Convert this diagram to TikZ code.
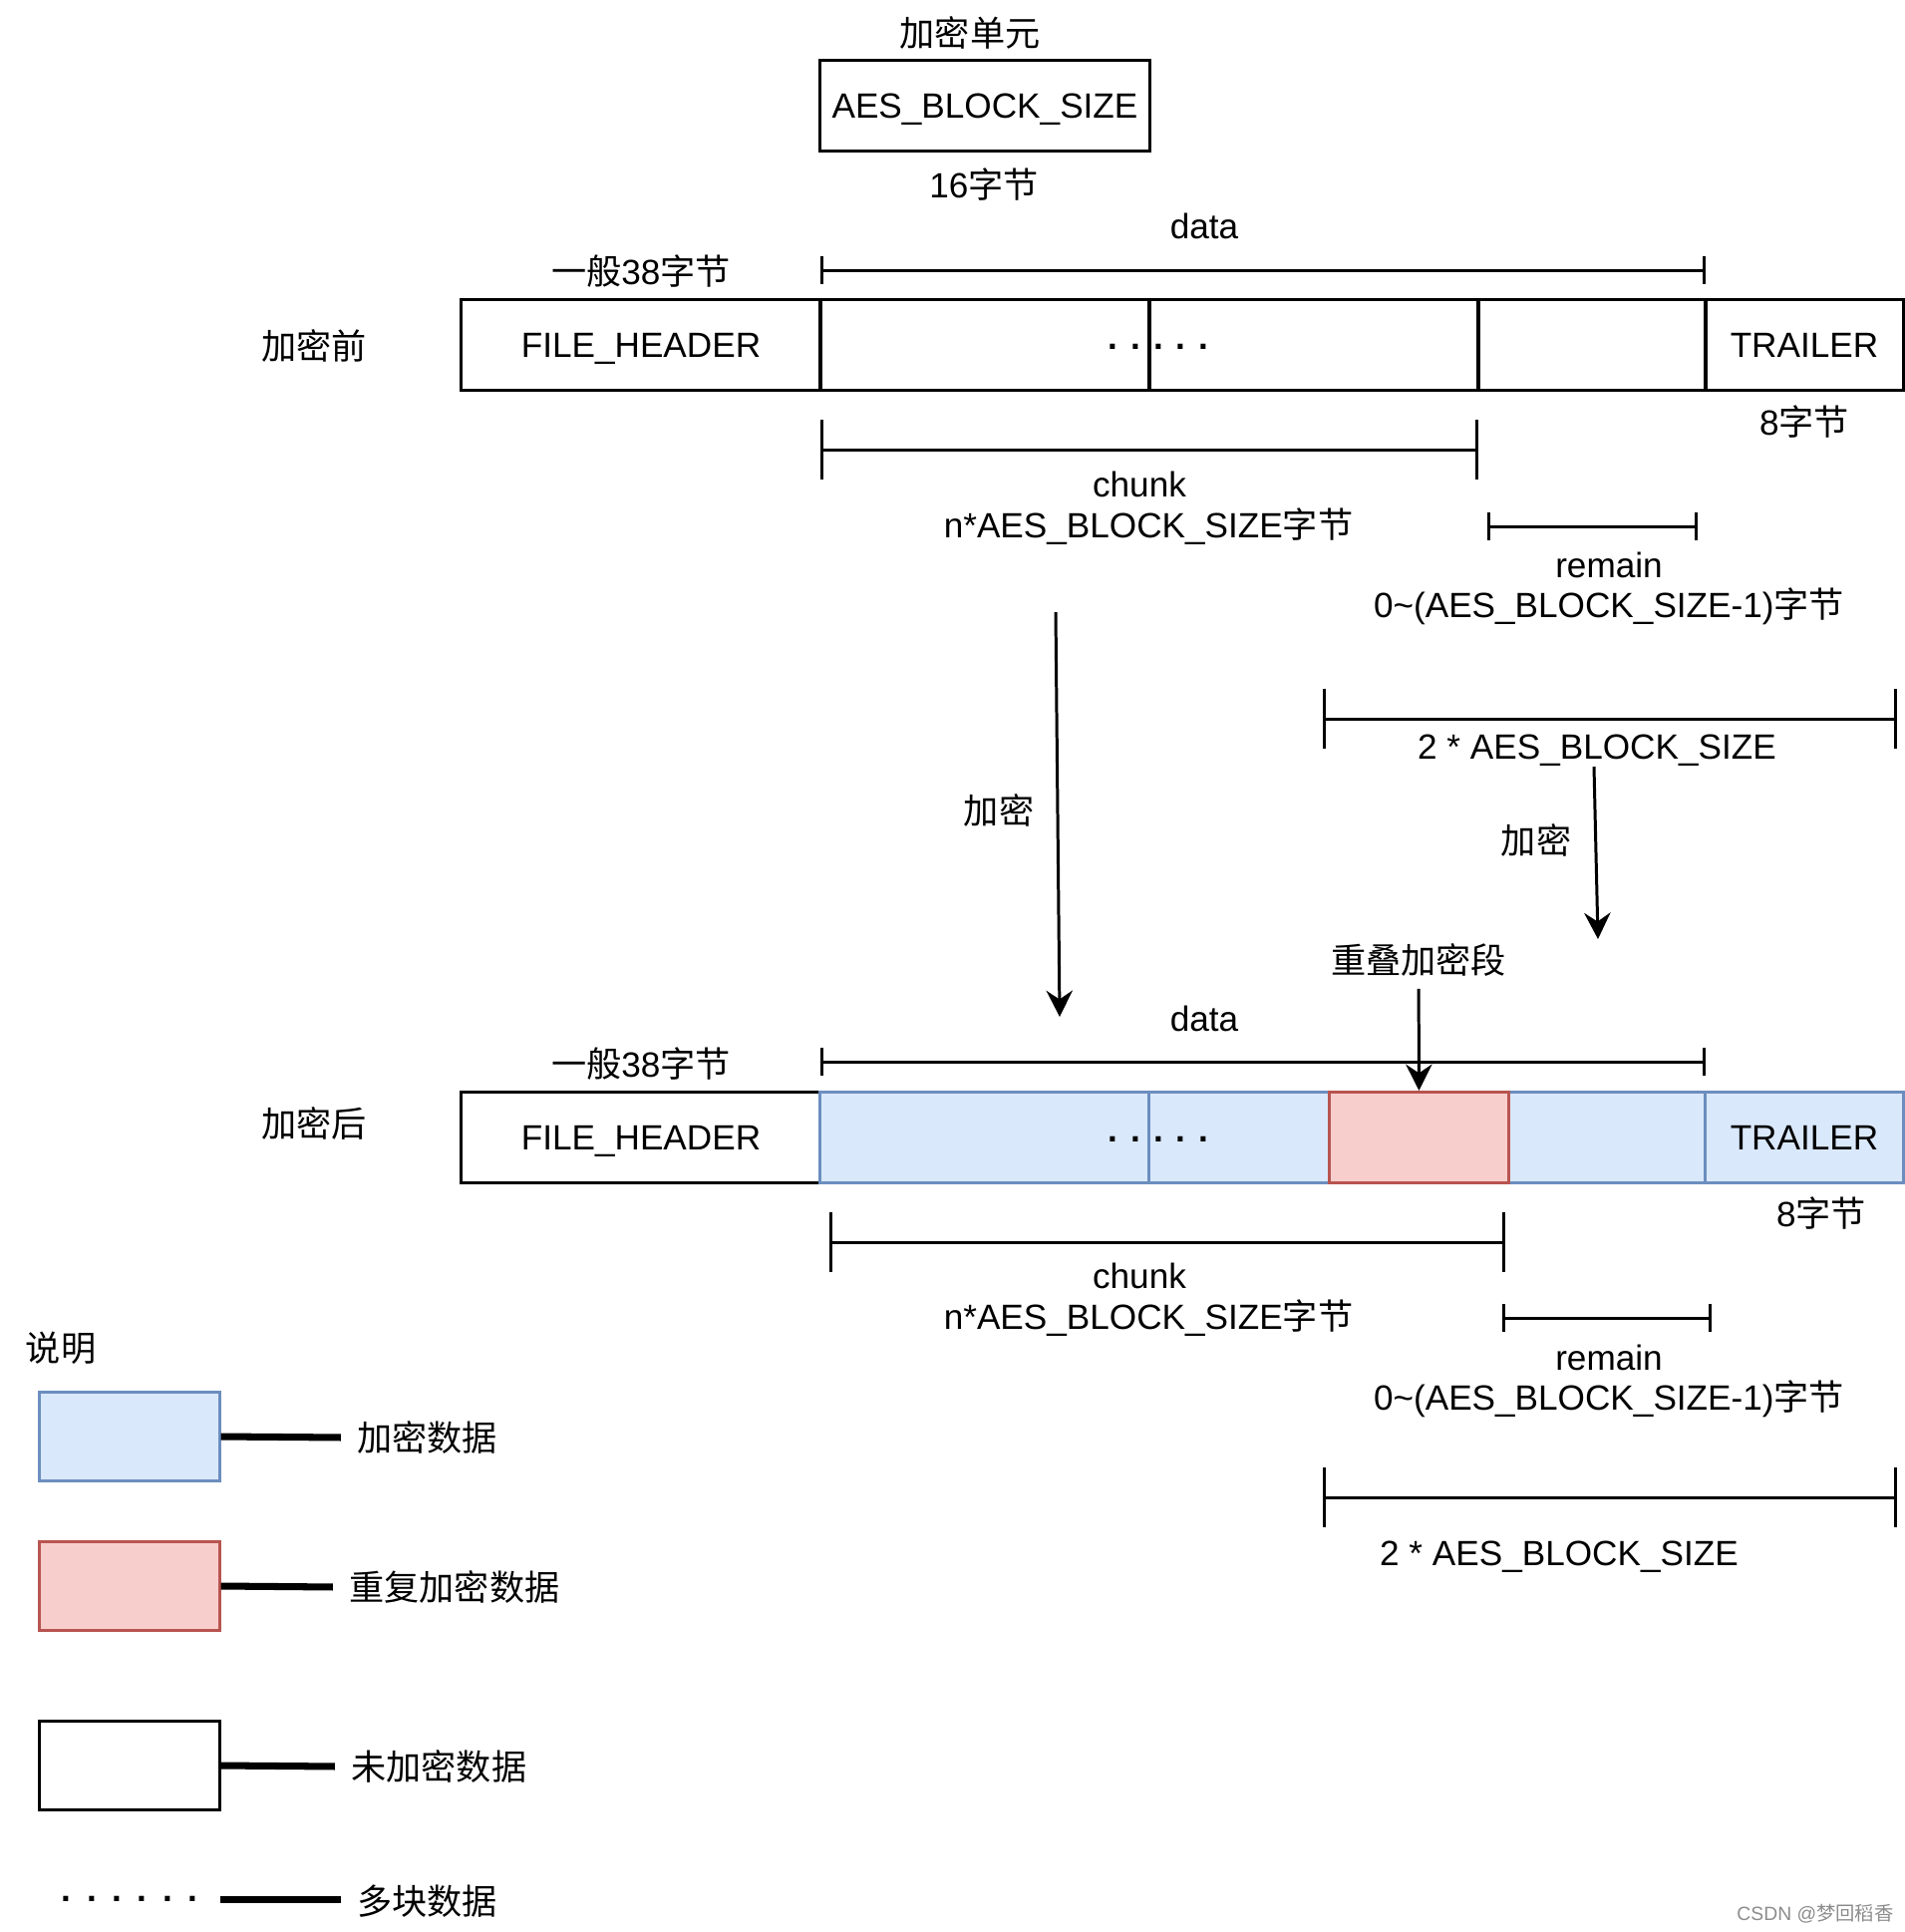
\documentclass[tikz,border=0pt]{standalone}
\usepackage{fontspec}
\setmainfont{Liberation Sans}
\newfontfamily\cjk{Noto Sans CJK SC}
\usetikzlibrary{arrows.meta}

\newcommand{\zh}[1]{{\cjk #1}}
\newcommand{\dotgap}[1]{\textbf{.}\hspace{#1}\textbf{.}\hspace{#1}\textbf{.}\hspace{#1}\textbf{.}\hspace{#1}\textbf{.}}

\definecolor{encfill}{HTML}{DAE8FC}
\definecolor{encline}{HTML}{6C8EBF}
\definecolor{ovlfill}{HTML}{F8CECC}
\definecolor{ovlline}{HTML}{B85450}

\tikzset{
  every node/.style={font=\fontsize{10}{12}\selectfont},
  cell/.style={draw, line width=0.85pt, minimum height=0.91cm, inner sep=0pt,
    text height=7.2pt, text depth=0pt},
  enc/.style={cell, draw=encline, fill=encfill},
  ovl/.style={cell, draw=ovlline, fill=ovlfill},
  span/.style={line width=0.85pt, {Bar[width=8pt]}-{Bar[width=8pt]}},
  bigspan/.style={line width=0.85pt, {Bar[width=17pt]}-{Bar[width=17pt]}},
  flow/.style={line width=0.85pt, -{Stealth[length=7.5pt,width=7.5pt,inset=2.5pt]}},
  keyline/.style={line width=2pt, shorten >=1.2pt}
}

\begin{document}
\begin{tikzpicture}[x=0.01cm, y=-0.01cm]
\useasboundingbox (0,0) rectangle (1911,1938);

% encryption unit
\node[cell, minimum width=3.30cm, minimum height=0.90cm] (unit) at (988,106) {AES\_BLOCK\_SIZE};
\node (unitname) at (973,33) {\zh{加密单元}};
\node (unitsize) at (987,185) {16\zh{字节}};

% before encryption
\node (before) at (315,347) {\zh{加密前}};
\node[cell, minimum width=3.60cm] (hdrA) at (643,346) {FILE\_HEADER};
\node[cell, minimum width=3.30cm] (datA1) at (988,346) {};
\node[cell, minimum width=3.30cm] (datA2) at (1318,346) {};
\node[cell, minimum width=2.28cm] (datA3) at (1597,346) {};
\node[cell, minimum width=1.98cm] (trlA) at (1810,346) {TRAILER};
\node[anchor=base] (dotsA) at (1162,350) {\dotgap{1.3mm}};
\node (trlAsize) at (1810,423) {8\zh{字节}};

\node (hdrAsize) at (643,272) {\zh{一般}38\zh{字节}};
\node (dataA) at (1208,227) {data};
\coordinate (dA0) at (823,271);
\coordinate (dA1) at (1711,271);
\draw[span] (dA0) -- (dA1);

\coordinate (cA0) at (823,451);
\coordinate (cA1) at (1483,451);
\draw[bigspan] (cA0) -- (cA1);
\node (chunkA) at (1143,486) {chunk};
\node (chunkAsize) at (1152,528) {n*AES\_BLOCK\_SIZE\zh{字节}};

\coordinate (rA0) at (1492,528);
\coordinate (rA1) at (1703,528);
\draw[span] (rA0) -- (rA1);
\node (remA) at (1614,567) {remain};
\node (remAsize) at (1614,608) {0\textasciitilde(AES\_BLOCK\_SIZE-1)\zh{字节}};

\coordinate (tA0) at (1327,721);
\coordinate (tA1) at (1903,721);
\draw[bigspan] (tA0) -- (tA1);
\node (twoA) at (1602,753) {2 * AES\_BLOCK\_SIZE};

% encryption steps
\coordinate (encA0) at (1059,614);
\coordinate (encA1) at (1063,1020);
\draw[flow] (encA0) -- (encA1);
\node (encAlbl) at (1002,813) {\zh{加密}};
\coordinate (encB0) at (1599,769);
\coordinate (encB1) at (1603,942);
\draw[flow] (encB0) -- (encB1);
\node (encBlbl) at (1541,843) {\zh{加密}};

% after encryption
\node (after) at (315,1127) {\zh{加密后}};
\node[cell, minimum width=3.60cm] (hdrB) at (643,1141) {FILE\_HEADER};
\node[enc, minimum width=3.30cm] (encB1c) at (988,1141) {};
\node[enc, minimum width=1.81cm] (encB2c) at (1243.5,1141) {};
\node[enc, minimum width=1.98cm] (encB3c) at (1612,1141) {};
\node[enc, minimum width=1.98cm] (trlB) at (1810,1141) {TRAILER};
\node[ovl, minimum width=1.79cm] (ovlB) at (1423.5,1141) {};
\node[anchor=base] (dotsB) at (1162,1145) {\dotgap{1.3mm}};
\node (trlBsize) at (1827,1217) {8\zh{字节}};

\node (ovlname) at (1423,963) {\zh{重叠加密段}};
\draw[flow] (ovlname) -- (ovlB.north);

\node (hdrBsize) at (643,1067) {\zh{一般}38\zh{字节}};
\node (dataB) at (1208,1022) {data};
\coordinate (dB0) at (823,1065);
\coordinate (dB1) at (1711,1065);
\draw[span] (dB0) -- (dB1);

\coordinate (cB0) at (832,1246);
\coordinate (cB1) at (1510,1246);
\draw[bigspan] (cB0) -- (cB1);
\node (chunkB) at (1143,1280) {chunk};
\node (chunkBsize) at (1152,1322) {n*AES\_BLOCK\_SIZE\zh{字节}};

\coordinate (rB0) at (1507,1322);
\coordinate (rB1) at (1717,1322);
\draw[span] (rB0) -- (rB1);
\node (remB) at (1614,1362) {remain};
\node (remBsize) at (1614,1403) {0\textasciitilde(AES\_BLOCK\_SIZE-1)\zh{字节}};

\coordinate (tB0) at (1327,1502);
\coordinate (tB1) at (1903,1502);
\draw[bigspan] (tB0) -- (tB1);
\node (twoB) at (1564,1562) {2 * AES\_BLOCK\_SIZE};

% legend
\node (keytitle) at (61,1352) {\zh{说明}};
\node[enc, minimum width=1.80cm, minimum height=0.89cm] (keyEnc) at (130,1441) {};
\node[ovl, minimum width=1.80cm, minimum height=0.89cm] (keyOvl) at (130,1591) {};
\node[cell, minimum width=1.80cm, minimum height=0.89cm] (keyRaw) at (130,1771) {};
\node[minimum width=1.80cm, inner sep=0pt] (keyDots) at (130,1905) {\dotgap{1.56mm}\hspace{1.56mm}\textbf{.}\hspace{0.2cm}};
\node[anchor=west] (txtEnc) at (346,1442) {\zh{加密数据}};
\node[anchor=west] (txtOvl) at (338,1592) {\zh{重复加密数据}};
\node[anchor=west] (txtRaw) at (340,1772) {\zh{未加密数据}};
\node[anchor=west] (txtDots) at (346,1907) {\zh{多块数据}};
\draw[keyline] (keyEnc.east) -- (txtEnc.west);
\draw[keyline] (keyOvl.east) -- (txtOvl.west);
\draw[keyline] (keyRaw.east) -- (txtRaw.west);
\draw[keyline] (keyDots.east) -- (txtDots.west |- keyDots.east);

\node[text=black!45, font=\fontsize{5.5}{7}\selectfont] (mark) at (1821,1920) {CSDN @\zh{梦回稻香}};
\end{tikzpicture}
\end{document}
